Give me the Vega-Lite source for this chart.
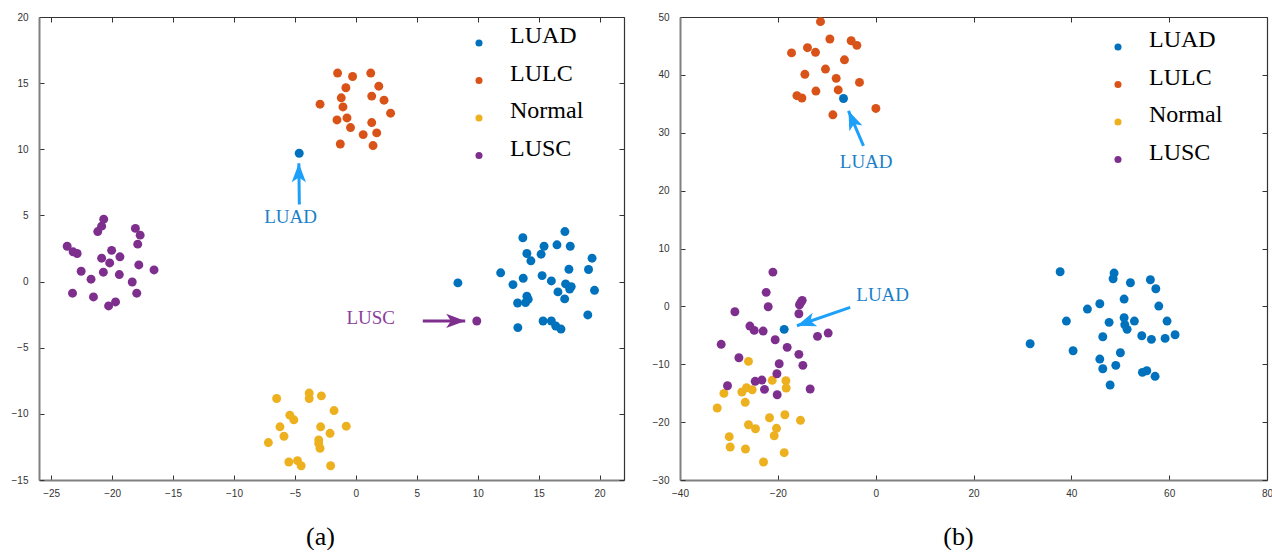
{
  "$schema": "https://vega.github.io/schema/vega-lite/v6.json",
  "background": "white",
  "padding": {"left": 11, "top": 12, "right": 5, "bottom": 0},
  "spacing": 27,
  "config": {
    "view": {"stroke": null},
    "axis": {"grid": false, "title": null, "labelFlush": false, "labelFont": "Liberation Sans", "labelFontSize": 10, "labelColor": "#333", "tickColor": "#333", "tickSize": -5, "tickWidth": 1},
    "axisX": {"labelPadding": 13},
    "axisY": {"labelPadding": 16},
    "title": {"orient": "bottom", "font": "Liberation Serif", "fontSize": 26, "fontWeight": "normal", "color": "black", "offset": 26, "anchor": "middle"},
    "legend": {"orient": "none", "title": null, "labelFont": "Liberation Serif", "labelFontSize": 24, "labelColor": "black", "symbolSize": 50, "symbolType": "circle", "symbolStrokeWidth": 0, "labelBaseline": "alphabetic", "labelOffset": 19, "rowPadding": 13.5, "padding": 0}
  },
  "datasets": {
    "a": [
      {"x": 13.7, "y": 3.31, "type": "LUAD"}, {"x": 17.15, "y": 3.78, "type": "LUAD"}, {"x": 15.44, "y": 2.67, "type": "LUAD"}, {"x": 16.5, "y": 2.78, "type": "LUAD"}, {"x": 17.59, "y": 2.67, "type": "LUAD"}, {"x": 14.03, "y": 2.12, "type": "LUAD"}, {"x": 15.2, "y": 2.07, "type": "LUAD"}, {"x": 14.36, "y": 1.57, "type": "LUAD"}, {"x": 19.38, "y": 1.77, "type": "LUAD"}, {"x": 11.88, "y": 0.66, "type": "LUAD"}, {"x": 17.48, "y": 0.93, "type": "LUAD"}, {"x": 19.09, "y": 0.91, "type": "LUAD"}, {"x": 13.73, "y": 0.25, "type": "LUAD"}, {"x": 15.28, "y": 0.45, "type": "LUAD"}, {"x": 16.04, "y": 0.05, "type": "LUAD"}, {"x": 12.89, "y": -0.23, "type": "LUAD"}, {"x": 17.21, "y": -0.18, "type": "LUAD"}, {"x": 17.67, "y": -0.38, "type": "LUAD"}, {"x": 17.54, "y": -0.56, "type": "LUAD"}, {"x": 19.58, "y": -0.66, "type": "LUAD"}, {"x": 8.37, "y": -0.1, "type": "LUAD"}, {"x": 16.58, "y": -0.78, "type": "LUAD"}, {"x": 14.03, "y": -1.11, "type": "LUAD"}, {"x": 14.14, "y": -1.34, "type": "LUAD"}, {"x": 13.27, "y": -1.62, "type": "LUAD"}, {"x": 13.92, "y": -1.59, "type": "LUAD"}, {"x": 17.13, "y": -1.31, "type": "LUAD"}, {"x": 19.03, "y": -2.52, "type": "LUAD"}, {"x": 15.36, "y": -2.98, "type": "LUAD"}, {"x": 16.04, "y": -2.98, "type": "LUAD"}, {"x": 16.4, "y": -3.36, "type": "LUAD"}, {"x": 16.83, "y": -3.59, "type": "LUAD"}, {"x": 13.29, "y": -3.48, "type": "LUAD"}, {"x": -4.65, "y": 9.7, "type": "LUAD"},
      {"x": -2.94, "y": 13.41, "type": "LULC"}, {"x": -1.5, "y": 15.76, "type": "LULC"}, {"x": -0.27, "y": 15.5, "type": "LULC"}, {"x": 1.22, "y": 15.76, "type": "LULC"}, {"x": -0.82, "y": 14.65, "type": "LULC"}, {"x": 1.88, "y": 14.77, "type": "LULC"}, {"x": -1.2, "y": 13.89, "type": "LULC"}, {"x": 1.3, "y": 14.02, "type": "LULC"}, {"x": 2.31, "y": 13.71, "type": "LULC"}, {"x": -1.06, "y": 13.2, "type": "LULC"}, {"x": 2.85, "y": 12.73, "type": "LULC"}, {"x": -1.55, "y": 12.22, "type": "LULC"}, {"x": -0.73, "y": 12.37, "type": "LULC"}, {"x": 1.3, "y": 12.02, "type": "LULC"}, {"x": -0.44, "y": 11.64, "type": "LULC"}, {"x": 0.6, "y": 11.11, "type": "LULC"}, {"x": 1.71, "y": 11.24, "type": "LULC"}, {"x": -1.28, "y": 10.4, "type": "LULC"}, {"x": 1.41, "y": 10.28, "type": "LULC"},
      {"x": -6.5, "y": -8.84, "type": "Normal"}, {"x": -3.83, "y": -8.43, "type": "Normal"}, {"x": -3.83, "y": -8.84, "type": "Normal"}, {"x": -2.83, "y": -8.64, "type": "Normal"}, {"x": -5.42, "y": -10.1, "type": "Normal"}, {"x": -5.09, "y": -10.45, "type": "Normal"}, {"x": -6.23, "y": -10.98, "type": "Normal"}, {"x": -5.9, "y": -11.69, "type": "Normal"}, {"x": -7.18, "y": -12.17, "type": "Normal"}, {"x": -5.5, "y": -13.64, "type": "Normal"}, {"x": -4.79, "y": -13.54, "type": "Normal"}, {"x": -4.49, "y": -13.92, "type": "Normal"}, {"x": -1.79, "y": -9.75, "type": "Normal"}, {"x": -2.89, "y": -10.98, "type": "Normal"}, {"x": -2.12, "y": -11.47, "type": "Normal"}, {"x": -0.79, "y": -10.93, "type": "Normal"}, {"x": -3.05, "y": -11.97, "type": "Normal"}, {"x": -3.05, "y": -12.25, "type": "Normal"}, {"x": -2.94, "y": -12.6, "type": "Normal"}, {"x": -2.07, "y": -13.92, "type": "Normal"},
      {"x": -20.69, "y": 4.72, "type": "LUSC"}, {"x": -20.86, "y": 4.19, "type": "LUSC"}, {"x": -21.18, "y": 3.78, "type": "LUSC"}, {"x": -18.09, "y": 4.02, "type": "LUSC"}, {"x": -17.7, "y": 3.51, "type": "LUSC"}, {"x": -17.9, "y": 2.83, "type": "LUSC"}, {"x": -23.69, "y": 2.67, "type": "LUSC"}, {"x": -23.2, "y": 2.25, "type": "LUSC"}, {"x": -22.87, "y": 2.12, "type": "LUSC"}, {"x": -20.04, "y": 2.36, "type": "LUSC"}, {"x": -20.86, "y": 1.77, "type": "LUSC"}, {"x": -19.36, "y": 1.87, "type": "LUSC"}, {"x": -20.2, "y": 1.41, "type": "LUSC"}, {"x": -17.81, "y": 1.26, "type": "LUSC"}, {"x": -22.54, "y": 0.78, "type": "LUSC"}, {"x": -20.72, "y": 0.71, "type": "LUSC"}, {"x": -19.41, "y": 0.53, "type": "LUSC"}, {"x": -16.56, "y": 0.88, "type": "LUSC"}, {"x": -21.73, "y": 0.18, "type": "LUSC"}, {"x": -18.35, "y": -0.03, "type": "LUSC"}, {"x": -23.25, "y": -0.88, "type": "LUSC"}, {"x": -21.53, "y": -1.16, "type": "LUSC"}, {"x": -17.98, "y": -0.88, "type": "LUSC"}, {"x": -19.72, "y": -1.54, "type": "LUSC"}, {"x": -20.29, "y": -1.84, "type": "LUSC"}, {"x": 9.92, "y": -2.98, "type": "LUSC"}
    ],
    "b": [
      {"x": 37.71, "y": 5.98, "type": "LUAD"}, {"x": 48.74, "y": 5.75, "type": "LUAD"}, {"x": 48.54, "y": 4.77, "type": "LUAD"}, {"x": 52.08, "y": 4.08, "type": "LUAD"}, {"x": 56.16, "y": 4.6, "type": "LUAD"}, {"x": 57.27, "y": 3.04, "type": "LUAD"}, {"x": 50.79, "y": 1.26, "type": "LUAD"}, {"x": 45.82, "y": 0.45, "type": "LUAD"}, {"x": 43.29, "y": -0.47, "type": "LUAD"}, {"x": 57.88, "y": 0.05, "type": "LUAD"}, {"x": 38.99, "y": -2.54, "type": "LUAD"}, {"x": 47.72, "y": -2.76, "type": "LUAD"}, {"x": 50.79, "y": -1.97, "type": "LUAD"}, {"x": 52.89, "y": -2.54, "type": "LUAD"}, {"x": 50.93, "y": -3.18, "type": "LUAD"}, {"x": 51.4, "y": -3.97, "type": "LUAD"}, {"x": 59.57, "y": -2.54, "type": "LUAD"}, {"x": 61.21, "y": -4.9, "type": "LUAD"}, {"x": 46.43, "y": -5.25, "type": "LUAD"}, {"x": 54.4, "y": -5.08, "type": "LUAD"}, {"x": 56.37, "y": -5.7, "type": "LUAD"}, {"x": 59.17, "y": -5.53, "type": "LUAD"}, {"x": 31.58, "y": -6.46, "type": "LUAD"}, {"x": 40.36, "y": -7.67, "type": "LUAD"}, {"x": 50.03, "y": -8.01, "type": "LUAD"}, {"x": 45.82, "y": -9.1, "type": "LUAD"}, {"x": 49.09, "y": -10.19, "type": "LUAD"}, {"x": 46.43, "y": -10.78, "type": "LUAD"}, {"x": 54.53, "y": -11.4, "type": "LUAD"}, {"x": 55.43, "y": -11.12, "type": "LUAD"}, {"x": 57.12, "y": -12.09, "type": "LUAD"}, {"x": 47.93, "y": -13.59, "type": "LUAD"},
      {"x": -11.28, "y": 49.2, "type": "LULC"}, {"x": -9.36, "y": 46.2, "type": "LULC"}, {"x": -5.01, "y": 45.9, "type": "LULC"}, {"x": -3.84, "y": 45.1, "type": "LULC"}, {"x": -17.2, "y": 43.8, "type": "LULC"}, {"x": -13.94, "y": 44.7, "type": "LULC"}, {"x": -12.3, "y": 43.9, "type": "LULC"}, {"x": -6.38, "y": 42.6, "type": "LULC"}, {"x": -10.26, "y": 41.0, "type": "LULC"}, {"x": -14.47, "y": 40.1, "type": "LULC"}, {"x": -8.07, "y": 39.4, "type": "LULC"}, {"x": -3.31, "y": 38.7, "type": "LULC"}, {"x": -7.66, "y": 37.4, "type": "LULC"}, {"x": -12.22, "y": 37.2, "type": "LULC"}, {"x": -16.1, "y": 36.4, "type": "LULC"}, {"x": -15.08, "y": 36.0, "type": "LULC"}, {"x": -8.75, "y": 33.1, "type": "LULC"}, {"x": 0.04, "y": 34.2, "type": "LULC"},
      {"x": -6.58, "y": 35.92, "type": "LUAD"},
      {"x": -26.0, "y": -9.5, "type": "Normal"}, {"x": -21.15, "y": -12.78, "type": "Normal"}, {"x": -18.35, "y": -12.85, "type": "Normal"}, {"x": -18.29, "y": -14.11, "type": "Normal"}, {"x": -31.02, "y": -15.03, "type": "Normal"}, {"x": -27.35, "y": -14.8, "type": "Normal"}, {"x": -26.4, "y": -14.06, "type": "Normal"}, {"x": -25.24, "y": -14.4, "type": "Normal"}, {"x": -26.67, "y": -16.58, "type": "Normal"}, {"x": -32.39, "y": -17.56, "type": "Normal"}, {"x": -21.7, "y": -19.24, "type": "Normal"}, {"x": -18.56, "y": -18.72, "type": "Normal"}, {"x": -15.37, "y": -19.69, "type": "Normal"}, {"x": -26.0, "y": -20.45, "type": "Normal"}, {"x": -24.57, "y": -21.14, "type": "Normal"}, {"x": -20.27, "y": -21.07, "type": "Normal"}, {"x": -20.74, "y": -22.35, "type": "Normal"}, {"x": -29.94, "y": -22.52, "type": "Normal"}, {"x": -29.74, "y": -24.3, "type": "Normal"}, {"x": -26.61, "y": -24.65, "type": "Normal"}, {"x": -18.7, "y": -25.28, "type": "Normal"}, {"x": -22.93, "y": -26.89, "type": "Normal"},
      {"x": -21.01, "y": 5.92, "type": "LUSC"}, {"x": -22.38, "y": 2.42, "type": "LUSC"}, {"x": -15.02, "y": 1.04, "type": "LUSC"}, {"x": -15.29, "y": 0.69, "type": "LUSC"}, {"x": -15.57, "y": 0.28, "type": "LUSC"}, {"x": -21.97, "y": -0.07, "type": "LUSC"}, {"x": -28.78, "y": -0.93, "type": "LUSC"}, {"x": -15.7, "y": -1.28, "type": "LUSC"}, {"x": -25.71, "y": -3.4, "type": "LUSC"}, {"x": -24.83, "y": -4.15, "type": "LUSC"}, {"x": -23.0, "y": -4.27, "type": "LUSC"}, {"x": -20.54, "y": -5.77, "type": "LUSC"}, {"x": -11.89, "y": -5.18, "type": "LUSC"}, {"x": -9.71, "y": -4.61, "type": "LUSC"}, {"x": -31.58, "y": -6.56, "type": "LUSC"}, {"x": -18.09, "y": -7.08, "type": "LUSC"}, {"x": -15.7, "y": -8.29, "type": "LUSC"}, {"x": -27.96, "y": -8.88, "type": "LUSC"}, {"x": -14.88, "y": -10.19, "type": "LUSC"}, {"x": -19.72, "y": -9.91, "type": "LUSC"}, {"x": -20.19, "y": -11.64, "type": "LUSC"}, {"x": -24.63, "y": -12.95, "type": "LUSC"}, {"x": -23.26, "y": -12.73, "type": "LUSC"}, {"x": -30.29, "y": -13.71, "type": "LUSC"}, {"x": -22.73, "y": -14.34, "type": "LUSC"}, {"x": -20.13, "y": -15.27, "type": "LUSC"}, {"x": -13.39, "y": -14.28, "type": "LUSC"},
      {"x": -18.7, "y": -3.97, "type": "LUAD"}
    ]
  },
  "resolve": {"legend": {"color": "independent"}},
  "hconcat": [
    {
      "width": 585, "height": 463,
      "title": {"text": "(a)", "dx": -11},
      "resolve": {"axis": {"x": "independent", "y": "independent"}},
      "layer": [
        {
          "data": {"name": "a"},
          "mark": {"type": "point", "filled": true, "size": 80, "opacity": 1},
          "encoding": {
            "x": {"field": "x", "type": "quantitative", "scale": {"domain": [-26, 22], "nice": false, "zero": false}, "axis": {"orient": "bottom", "values": [-25, -20, -15, -10, -5, 0, 5, 10, 15, 20], "domainColor": "#808080", "domainWidth": 2}},
            "y": {"field": "y", "type": "quantitative", "scale": {"domain": [-15, 20], "nice": false, "zero": false}, "axis": {"orient": "left", "values": [-15, -10, -5, 0, 5, 10, 15, 20], "domainColor": "#808080", "domainWidth": 2}},
            "color": {"field": "type", "type": "nominal", "scale": {"domain": ["LUAD", "LULC", "Normal", "LUSC"], "range": ["#0072BD", "#D95319", "#EDB120", "#7E2F8E"]}, "legend": {"legendX": 428, "legendY": 14}}
          }
        },
        {
          "data": {"name": "a"},
          "mark": {"type": "point", "opacity": 0},
          "encoding": {
            "x": {"field": "x", "type": "quantitative", "axis": {"orient": "top", "labels": false, "values": [-25, -20, -15, -10, -5, 0, 5, 10, 15, 20], "domainColor": "#333", "domainWidth": 1.2}},
            "y": {"field": "y", "type": "quantitative", "axis": {"orient": "right", "labels": false, "values": [-15, -10, -5, 0, 5, 10, 15, 20], "domainColor": "#333", "domainWidth": 1.2}}
          }
        },
        {
          "data": {"values": [{"x": -4.64, "y": 5.83, "x2": -4.68, "y2": 8.94}]},
          "mark": {"type": "rule", "color": "#1CA0FA", "strokeWidth": 3},
          "encoding": {"x": {"field": "x", "type": "quantitative", "axis": null}, "y": {"field": "y", "type": "quantitative", "axis": null}, "x2": {"field": "x2"}, "y2": {"field": "y2"}}
        },
        {
          "data": {"values": [{"x": -4.68, "y": 8.94}]},
          "mark": {"type": "point", "filled": true, "opacity": 1, "color": "#1CA0FA", "size": 361, "angle": 0, "shape": "M0,0L-0.75,2L0,1.5L0.75,2Z"},
          "encoding": {"x": {"field": "x", "type": "quantitative", "axis": null}, "y": {"field": "y", "type": "quantitative", "axis": null}}
        },
        {
          "data": {"values": [{"x": 5.49, "y": -2.98, "x2": 8.97, "y2": -2.98}]},
          "mark": {"type": "rule", "color": "#7E2F8E", "strokeWidth": 3},
          "encoding": {"x": {"field": "x", "type": "quantitative", "axis": null}, "y": {"field": "y", "type": "quantitative", "axis": null}, "x2": {"field": "x2"}, "y2": {"field": "y2"}}
        },
        {
          "data": {"values": [{"x": 8.97, "y": -2.98}]},
          "mark": {"type": "point", "filled": true, "opacity": 1, "color": "#7E2F8E", "size": 361, "angle": 90, "shape": "M0,0L-0.75,2L0,1.5L0.75,2Z"},
          "encoding": {"x": {"field": "x", "type": "quantitative", "axis": null}, "y": {"field": "y", "type": "quantitative", "axis": null}}
        },
        {
          "data": {"values": [{"x": -5.36, "y": 4.87, "label": "LUAD"}]},
          "mark": {"type": "text", "font": "Liberation Serif", "fontSize": 19, "color": "#1B7FC8", "align": "center", "baseline": "middle"},
          "encoding": {"x": {"field": "x", "type": "quantitative", "axis": null}, "y": {"field": "y", "type": "quantitative", "axis": null}, "text": {"field": "label"}}
        },
        {
          "data": {"values": [{"x": 1.22, "y": -2.75, "label": "LUSC"}]},
          "mark": {"type": "text", "font": "Liberation Serif", "fontSize": 19, "color": "#8A3E9A", "align": "center", "baseline": "middle"},
          "encoding": {"x": {"field": "x", "type": "quantitative", "axis": null}, "y": {"field": "y", "type": "quantitative", "axis": null}, "text": {"field": "label"}}
        }
      ]
    },
    {
      "width": 587, "height": 463,
      "title": {"text": "(b)", "dx": -15},
      "resolve": {"axis": {"x": "independent", "y": "independent"}},
      "layer": [
        {
          "data": {"name": "b"},
          "mark": {"type": "point", "filled": true, "size": 80, "opacity": 1},
          "encoding": {
            "x": {"field": "x", "type": "quantitative", "scale": {"domain": [-40, 80], "nice": false, "zero": false}, "axis": {"orient": "bottom", "values": [-40, -20, 0, 20, 40, 60, 80], "domainColor": "#808080", "domainWidth": 2}},
            "y": {"field": "y", "type": "quantitative", "scale": {"domain": [-30, 50], "nice": false, "zero": false}, "axis": {"orient": "left", "values": [-30, -20, -10, 0, 10, 20, 30, 40, 50], "domainColor": "#808080", "domainWidth": 2}},
            "color": {"field": "type", "type": "nominal", "scale": {"domain": ["LUAD", "LULC", "Normal", "LUSC"], "range": ["#0072BD", "#D95319", "#EDB120", "#7E2F8E"]}, "legend": {"legendX": 426, "legendY": 18}}
          }
        },
        {
          "data": {"name": "b"},
          "mark": {"type": "point", "opacity": 0},
          "encoding": {
            "x": {"field": "x", "type": "quantitative", "axis": {"orient": "top", "labels": false, "values": [-40, -20, 0, 20, 40, 60, 80], "domainColor": "#333", "domainWidth": 1.2}},
            "y": {"field": "y", "type": "quantitative", "axis": {"orient": "right", "labels": false, "values": [-30, -20, -10, 0, 10, 20, 30, 40, 50], "domainColor": "#333", "domainWidth": 1.2}}
          }
        },
        {
          "data": {"values": [{"x": -2.49, "y": 27.74, "x2": -5.56, "y2": 33.78}, {"x": -5.21, "y": -0.17, "x2": -16.1, "y2": -3.35}]},
          "mark": {"type": "rule", "color": "#1CA0FA", "strokeWidth": 3},
          "encoding": {"x": {"field": "x", "type": "quantitative", "axis": null}, "y": {"field": "y", "type": "quantitative", "axis": null}, "x2": {"field": "x2"}, "y2": {"field": "y2"}}
        },
        {
          "data": {"values": [{"x": -5.56, "y": 33.78}]},
          "mark": {"type": "point", "filled": true, "opacity": 1, "color": "#1CA0FA", "size": 361, "angle": 337, "shape": "M0,0L-0.75,2L0,1.5L0.75,2Z"},
          "encoding": {"x": {"field": "x", "type": "quantitative", "axis": null}, "y": {"field": "y", "type": "quantitative", "axis": null}}
        },
        {
          "data": {"values": [{"x": -16.1, "y": -3.35}]},
          "mark": {"type": "point", "filled": true, "opacity": 1, "color": "#1CA0FA", "size": 361, "angle": 251, "shape": "M0,0L-0.75,2L0,1.5L0.75,2Z"},
          "encoding": {"x": {"field": "x", "type": "quantitative", "axis": null}, "y": {"field": "y", "type": "quantitative", "axis": null}}
        },
        {
          "data": {"values": [{"x": -1.94, "y": 24.97, "label": "LUAD"}, {"x": 1.43, "y": 2.0, "label": "LUAD"}]},
          "mark": {"type": "text", "font": "Liberation Serif", "fontSize": 19, "color": "#1B7FC8", "align": "center", "baseline": "middle"},
          "encoding": {"x": {"field": "x", "type": "quantitative", "axis": null}, "y": {"field": "y", "type": "quantitative", "axis": null}, "text": {"field": "label"}}
        }
      ]
    }
  ]
}
